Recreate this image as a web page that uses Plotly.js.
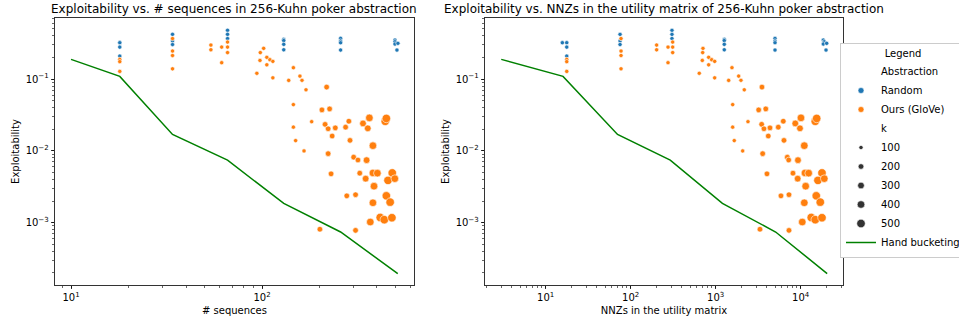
<!DOCTYPE html>
<html><head><meta charset="utf-8">
<script src="https://cdn.plot.ly/plotly-3.0.1.min.js"></script>
<style>html,body{margin:0;padding:0;background:#fff;}#chart{width:959px;height:321px;}</style>
</head><body><div id="chart"></div>
<script>
// ---------- data ----------
// Hand bucketing baseline
const handSeq = [10, 18, 34, 66, 130, 258, 514];
const handNNZ = [3, 16, 70, 292, 1200, 5080, 20500];
const handExp = [0.188, 0.109, 0.0169, 0.00742, 0.00185, 0.00074, 0.000195];

// Random abstraction
const randSeq = [18, 18, 18, 18, 34, 34, 34, 66, 66, 66, 130, 130, 130, 130, 258, 258, 258, 258, 497, 497, 497, 509, 515];
const randNNZ = [15.7, 17.7, 17.7, 17.7, 75, 75, 75, 306, 306, 306, 1262, 1262, 1262, 1262, 4990, 4990, 4990, 4990, 18450, 18950, 18450, 19870, 20230];
const randExp = [0.321, 0.321, 0.279, 0.209, 0.42, 0.34, 0.303, 0.478, 0.42, 0.367, 0.358, 0.344, 0.305, 0.256, 0.369, 0.339, 0.321, 0.254, 0.35, 0.331, 0.308, 0.254, 0.315];
const randK = [100, 100, 100, 100, 100, 100, 100, 100, 100, 100, 100, 100, 100, 100, 100, 100, 100, 100, 100, 100, 100, 100, 100];

// Ours (GloVe)
const oursSeq = [18, 18, 18, 34, 34, 34, 34, 66, 66, 66, 61.5, 61.5, 54, 54,
  102, 98, 106, 97.6, 110, 114, 106, 94, 114,
  146, 158, 162, 138, 170, 218, 146, 206, 226,
  182, 146, 214, 222, 242, 285, 274, 338, 365, 358, 442, 448,
  150, 166, 233, 222, 289, 381, 302, 318, 353,
  230, 325, 381, 402, 481, 349, 457, 496, 386,
  278, 309, 448, 469, 381, 369, 416, 437, 479, 201, 309];
const oursNNZ = [17.7, 17.7, 17.7, 77, 77, 77, 77, 312, 312, 312, 275, 275, 202, 202,
  709, 703, 827, 696, 898, 973, 827, 641, 973,
  1555, 1865, 1984, 1422, 2170, 3505, 1585, 3205, 3886,
  2399, 1585, 3477, 3700, 4354, 6242, 5452, 8640, 10080, 9812, 14850, 15430,
  1655, 2078, 4157, 3573, 6360, 11030, 6960, 7225, 9294,
  4013, 8118, 11240, 12420, 17810, 9220, 15970, 18950, 11450,
  5864, 7285, 15260, 17010, 11030, 10440, 13320, 14850, 17810, 3320, 7285];
const oursExp = [0.188, 0.175, 0.128, 0.367, 0.246, 0.213, 0.139, 0.328, 0.279, 0.234, 0.279, 0.169, 0.298, 0.256,
  0.268, 0.234, 0.201, 0.182, 0.186, 0.1765, 0.158, 0.1205, 0.104,
  0.144, 0.110, 0.0962, 0.0959, 0.0709, 0.0774, 0.0441, 0.0372, 0.0384,
  0.0255, 0.0214, 0.0234, 0.0203, 0.0209, 0.0259, 0.0214, 0.0241, 0.0288, 0.0206, 0.0258, 0.0283,
  0.0139, 0.00997, 0.0161, 0.00914, 0.0140, 0.0118, 0.00817, 0.00746, 0.00742,
  0.00478, 0.00489, 0.00492, 0.00489, 0.00493, 0.0041, 0.00388, 0.0041, 0.00322,
  0.00236, 0.00245, 0.00236, 0.00193, 0.00189, 0.00102, 0.00118, 0.0011, 0.00117, 0.00081, 0.00078];
const oursK = [100, 100, 100, 100, 100, 100, 100, 100, 100, 100, 100, 100, 100, 100,
  100, 100, 100, 100, 100, 100, 100, 100, 100,
  100, 100, 100, 100, 100, 200, 100, 200, 200,
  100, 100, 200, 200, 200, 200, 200, 300, 400, 300, 500, 500,
  100, 100, 200, 200, 200, 400, 200, 200, 300,
  200, 200, 400, 400, 500, 300, 500, 400, 400,
  200, 200, 500, 500, 400, 400, 500, 500, 500, 200, 200];

// legend labels
const sizeLegendK = [100, 200, 300, 400, 500];
const titles = ['Exploitability vs. # sequences in 256-Kuhn poker abstraction',
                'Exploitability vs. NNZs in the utility matrix of 256-Kuhn poker abstraction'];
const xTitles = ['# sequences', 'NNZs in the utility matrix'];
const yTitle = 'Exploitability';

// ---------- styling ----------
const FONT = 'DejaVu Sans, sans-serif';
const BLUE = '#1f77b4', ORANGE = '#ff7f0e', GREEN = '#008000';
const sz = k => Math.sqrt(18 + (k - 100) / 400 * 54);
const W = 959, H = 321;

function pts(x, y, k, color, xa, ya) {
  return {type: 'scatter', mode: 'markers', x: x, y: y, xaxis: xa, yaxis: ya, showlegend: false,
    hoverinfo: 'skip',
    marker: {color: color, opacity: 1, size: k.map(sz), line: {color: 'white', width: 0.6}}};
}
function line(x, y, xa, ya) {
  return {type: 'scatter', mode: 'lines', x: x, y: y, xaxis: xa, yaxis: ya, showlegend: false,
    hoverinfo: 'skip', line: {color: GREEN, width: 1.5}};
}
const data = [
  line(handSeq, handExp, 'x', 'y'),
  pts(randSeq, randExp, randK, BLUE, 'x', 'y'),
  pts(oursSeq, oursExp, oursK, ORANGE, 'x', 'y'),
  line(handNNZ, handExp, 'x2', 'y2'),
  pts(randNNZ, randExp, randK, BLUE, 'x2', 'y2'),
  pts(oursNNZ, oursExp, oursK, ORANGE, 'x2', 'y2')
];
// legend-only entries
function legendEntry(name, marker, mode) {
  return {type: 'scatter', mode: mode || 'markers', x: [null], y: [null], name: name,
    xaxis: 'x', yaxis: 'y', showlegend: true, marker: marker};
}
data.push(legendEntry('Abstraction', {color: 'rgba(0,0,0,0)', size: 1}));
data.push(legendEntry('Random', {color: BLUE, opacity: 1, size: 6, line: {color: 'white', width: 0.6}}));
data.push(legendEntry('Ours (GloVe)', {color: ORANGE, opacity: 1, size: 6, line: {color: 'white', width: 0.6}}));
data.push(legendEntry('k', {color: 'rgba(0,0,0,0)', size: 1}));
sizeLegendK.forEach(k => data.push(legendEntry(String(k), {color: '#333333', opacity: 1, size: sz(k), line: {color: 'white', width: 0.6}})));
data.push({type: 'scatter', mode: 'lines', x: [null], y: [null], name: 'Hand bucketing',
  xaxis: 'x', yaxis: 'y', showlegend: true, line: {color: GREEN, width: 1.5}});

function axis(domain, range, tickvals, ticktext, anchor, title, standoff) {
  return {type: 'log', domain: domain, range: range, anchor: anchor,
    tickmode: 'array', tickvals: tickvals, ticktext: ticktext,
    ticks: 'outside', ticklen: 3.5, tickwidth: 0.8, tickcolor: 'black',
    showline: true, linecolor: 'black', linewidth: 0.8, mirror: true,
    showgrid: false, zeroline: false, automargin: false,
    tickfont: {family: FONT, size: 10, color: 'black'},
    minor: {ticks: 'outside', ticklen: 2, tickwidth: 0.6, tickcolor: 'black', dtick: 'D1', showgrid: false},
    title: {text: title, font: {family: FONT, size: 10, color: 'black'}, standoff: standoff}};
}
const yDom = [1 - 285 / H, 1 - 18 / H];
const x1Dom = [55 / W, 414 / W];
const x2Dom = [485 / W, 843 / W];
const yVals = [0.001, 0.01, 0.1];
const yText = ['10<sup>\u22123</sup>', '10<sup>\u22122</sup>', '10<sup>\u22121</sup>'];

const layout = {
  width: W, height: H,
  margin: {l: 0, r: 0, t: 0, b: 0, autoexpand: false},
  paper_bgcolor: 'white', plot_bgcolor: 'white',
  font: {family: FONT, size: 10, color: 'black'},
  showlegend: true,
  xaxis: axis(x1Dom, [0.916, 2.796], [10, 100], ['10<sup>1</sup>', '10<sup>2</sup>'], 'y', xTitles[0], 4),
  yaxis: axis(yDom, [-3.869, -0.149], yVals, yText, 'x', yTitle, 4),
  xaxis2: axis(x2Dom, [0.286, 4.498], [10, 100, 1000, 10000],
    ['10<sup>1</sup>', '10<sup>2</sup>', '10<sup>3</sup>', '10<sup>4</sup>'], 'y2', xTitles[1], 4),
  yaxis2: axis(yDom, [-3.869, -0.149], yVals, yText, 'x2', yTitle, 4),
  annotations: [
    {text: titles[0], xref: 'paper', yref: 'paper', x: (x1Dom[0] + x1Dom[1]) / 2, y: 1 - 9.5 / H,
     xanchor: 'center', yanchor: 'middle', showarrow: false, font: {family: FONT, size: 12, color: 'black'}},
    {text: titles[1], xref: 'paper', yref: 'paper', x: (x2Dom[0] + x2Dom[1]) / 2, y: 1 - 9.5 / H,
     xanchor: 'center', yanchor: 'middle', showarrow: false, font: {family: FONT, size: 12, color: 'black'}}
  ],
  legend: {x: 840 / W, xanchor: 'left', y: 1 - 150.5 / H, yanchor: 'middle',
    bgcolor: 'white', bordercolor: '#cccccc', borderwidth: 1,
    font: {family: FONT, size: 10, color: 'black'},
    title: {text: 'Legend', side: 'top center', font: {family: FONT, size: 10, color: 'black'}},
    itemsizing: 'trace', tracegroupgap: 0, traceorder: 'normal'}
};
Plotly.newPlot('chart', data, layout, {displayModeBar: false, staticPlot: true});
</script></body></html>
